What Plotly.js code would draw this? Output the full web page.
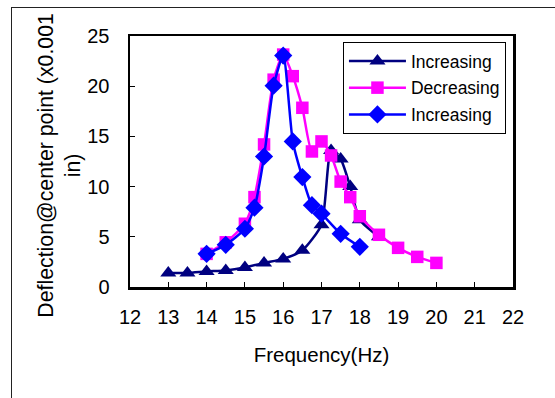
<!DOCTYPE html>
<html>
<head>
<meta charset="utf-8">
<script src="https://cdn.plot.ly/plotly-3.0.1.min.js"></script>
<style>
html,body{margin:0;padding:0;background:#fff;}
#wrap{position:relative;width:555px;height:398px;overflow:hidden;}
#chart{position:absolute;left:0;top:0;width:555px;height:398px;}
#frame{position:absolute;left:11px;top:7px;width:700px;height:600px;border:1px solid #222;pointer-events:none;}
</style>
</head>
<body>
<div id="wrap"><div id="chart"></div><div id="frame"></div></div>
<script>
// Series 1: Increasing (navy triangles)
const inc1Freq = [13, 13.5, 14, 14.5, 15, 15.5, 16, 16.5, 17, 17.25, 17.5, 17.75, 18, 18.5];
const inc1Defl = [1.4, 1.4, 1.55, 1.65, 1.95, 2.4, 2.8, 3.65, 6.2, 13.6, 12.75, 10.0, 6.7, 5.0];
// Series 2: Decreasing (magenta squares)
const decFreq = [14, 14.5, 15, 15.25, 15.5, 15.75, 16, 16.25, 16.5, 16.75, 17, 17.25, 17.5, 17.75, 18, 18.5, 19, 19.5, 20];
const decDefl = [3.3, 4.45, 6.3, 8.95, 14.2, 20.65, 23.15, 21.0, 17.85, 13.5, 14.5, 13.1, 10.5, 8.95, 7.05, 5.2, 3.9, 3.0, 2.4];
// Series 3: Increasing (blue diamonds)
const inc2Freq = [14, 14.5, 15, 15.25, 15.5, 15.75, 16, 16.25, 16.5, 16.75, 17, 17.5, 18];
const inc2Defl = [3.3, 4.2, 5.8, 7.9, 13.0, 20.05, 23.05, 14.5, 10.95, 8.15, 7.3, 5.3, 4.0];

const seriesNames = ['Increasing', 'Decreasing', 'Increasing'];
const xTicks = [12, 13, 14, 15, 16, 17, 18, 19, 20, 21, 22];
const yTicks = [0, 5, 10, 15, 20, 25];
const xTitle = 'Frequency(Hz)';
const yTitle = 'Deflection@center point (x0.001<br>in)';

const FONT = 'Liberation Sans, Arial, sans-serif';

const traces = [
  {x: inc1Freq, y: inc1Defl, name: seriesNames[0], legendgroup: 'a', mode: 'lines+markers',
   line: {color: '#000080', width: 2.5, shape: 'spline', smoothing: 0.6},
   marker: {symbol: 'triangle-up', size: 14, color: '#000080'}},
  {x: decFreq, y: decDefl, name: seriesNames[1], legendgroup: 'b', mode: 'lines+markers',
   line: {color: '#FF00FF', width: 2.5, shape: 'spline', smoothing: 0.6},
   marker: {symbol: 'square', size: 12.5, color: '#FF00FF'}},
  {x: inc2Freq, y: inc2Defl, name: seriesNames[2], legendgroup: 'c', mode: 'lines+markers',
   line: {color: '#0000FF', width: 2.5, shape: 'spline', smoothing: 0.6},
   marker: {symbol: 'diamond', size: 14, color: '#0000FF'}}
];

const layout = {
  width: 555, height: 398,
  margin: {l: 130, r: 42, t: 36, b: 111},
  paper_bgcolor: 'rgba(0,0,0,0)', plot_bgcolor: '#fff',
  font: {family: FONT, color: '#000', size: 20},
  showlegend: true,
  legend: {x: 0.556, y: 0.976, xanchor: 'left', yanchor: 'top',
    bgcolor: '#fff', bordercolor: '#000', borderwidth: 1,
    font: {family: FONT, size: 17.5, color: '#000'}, tracegroupgap: 1, itemwidth: 57},
  xaxis: {range: [12, 22], tickvals: xTicks, ticktext: xTicks.map(String),
    showgrid: false, zeroline: false, showline: true, linecolor: '#000', linewidth: 2.5,
    mirror: true, ticks: 'inside', ticklen: 5, tickcolor: '#000', tickwidth: 1,
    ticklabelstandoff: 10, tickfont: {size: 20},
    title: {text: xTitle, font: {size: 20.5}, standoff: 21}},
  yaxis: {range: [0, 25], tickvals: yTicks, ticktext: yTicks.map(String),
    showgrid: false, zeroline: false, showline: true, linecolor: '#000', linewidth: 2.5,
    mirror: true, ticks: 'inside', ticklen: 5, tickcolor: '#000', tickwidth: 1,
    ticklabelstandoff: 14, tickfont: {size: 20}},
  annotations: [{text: yTitle, xref: 'paper', yref: 'paper', x: -0.185, y: 0.484,
    xanchor: 'center', yanchor: 'middle', textangle: -90, showarrow: false,
    font: {family: FONT, size: 21.3, color: '#000'}}]
};

Plotly.newPlot('chart', traces, layout, {staticPlot: true, displayModeBar: false});
</script>
</body>
</html>
